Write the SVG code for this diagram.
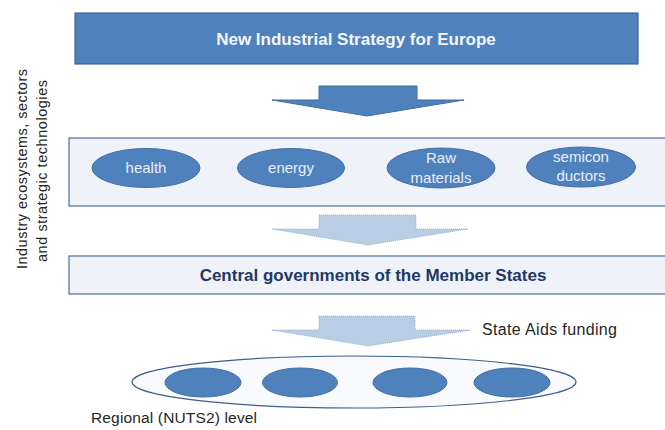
<svg xmlns="http://www.w3.org/2000/svg" width="665" height="430" viewBox="0 0 665 430">
  <style>
    .lbl { font-family: "Liberation Sans", Arial, sans-serif; }
    .dark-box { fill: #4f81bd; stroke: #3d6898; stroke-width: 1.2; }
    .light-box { fill: #eff3f9; stroke: #4d6f9c; stroke-width: 1.2; }
    .sector { fill: #4f81bd; stroke: #456fa3; stroke-width: 1; }
    .sector-text { fill: #e9eff8; font-size: 15px; text-anchor: middle; }
    .region { fill: #4f81bd; stroke: #456fa3; stroke-width: 1; }
    .arrow-solid { fill: #4f81bd; stroke: #456fa3; stroke-width: 1; }
    .arrow-light { fill: #b9cde5; stroke: #97b2d4; stroke-width: 1; stroke-dasharray: 1 1; }
    .plain { fill: #262626; }
  </style>

  <!-- Top-level strategy -->
  <g id="strategy">
    <rect class="dark-box" x="75" y="13" width="563" height="51"/>
    <text class="lbl" x="356" y="44.5" font-size="17" font-weight="bold" fill="#f3f6fb" text-anchor="middle">New Industrial  Strategy for Europe</text>
  </g>

  <!-- Side caption -->
  <g id="side-caption" class="lbl plain" font-size="14.5" text-anchor="middle">
    <text transform="translate(27,169) rotate(-90)" textLength="200" lengthAdjust="spacing">Industry ecosystems, sectors</text>
    <text transform="translate(46.5,171) rotate(-90)" textLength="182" lengthAdjust="spacing">and strategic technologies</text>
  </g>

  <!-- Ecosystems band -->
  <g id="ecosystems">
    <rect class="light-box" x="69" y="138" width="610" height="68"/>
    <g id="health">
      <ellipse class="sector" cx="146" cy="168" rx="54" ry="19.5"/>
      <text class="lbl sector-text" x="146" y="172.5">health</text>
    </g>
    <g id="energy">
      <ellipse class="sector" cx="291" cy="168" rx="53.5" ry="19.5"/>
      <text class="lbl sector-text" x="291" y="172.5">energy</text>
    </g>
    <g id="raw-materials">
      <ellipse class="sector" cx="441" cy="168" rx="54" ry="20"/>
      <text class="lbl sector-text" x="441" y="163.3">Raw</text>
      <text class="lbl sector-text" x="441" y="182.5">materials</text>
    </g>
    <g id="semiconductors">
      <ellipse class="sector" cx="581" cy="167" rx="54.5" ry="20"/>
      <text class="lbl sector-text" x="581" y="161.7">semicon</text>
      <text class="lbl sector-text" x="581" y="181">ductors</text>
    </g>
  </g>

  <!-- Member States -->
  <g id="member-states">
    <rect class="light-box" x="69" y="256" width="610" height="38"/>
    <text class="lbl" x="373" y="280.7" font-size="17" font-weight="bold" fill="#1f3864" text-anchor="middle">Central governments of the Member States</text>
  </g>

  <!-- Regional level -->
  <g id="regional">
    <ellipse cx="354" cy="382" rx="222" ry="26" fill="#f8fafd" stroke="#3e5f8a" stroke-width="1.2"/>
    <ellipse class="region" cx="203" cy="382.5" rx="38" ry="14.5"/>
    <ellipse class="region" cx="300" cy="382.5" rx="37.5" ry="14.5"/>
    <ellipse class="region" cx="410" cy="382.5" rx="37" ry="14.5"/>
    <ellipse class="region" cx="512" cy="382.5" rx="38" ry="14.5"/>
    <text class="lbl plain" x="91" y="422.5" font-size="15.5" textLength="166" lengthAdjust="spacing">Regional (NUTS2) level</text>
  </g>

  <!-- Flow arrows -->
  <g id="connectors">
    <polygon class="arrow-solid" points="319,86 417,86 417,100 464,100 367,116 272,100 319,100"/>
    <polygon class="arrow-light" points="319,215 416,215 416,229 468,229 368,245 272,229 319,229"/>
    <polygon class="arrow-light" points="319,316 415,316 415,330 470,330 368,346 272,330 319,330"/>
    <text class="lbl plain" x="482" y="335" font-size="16" textLength="135" lengthAdjust="spacing">State Aids funding</text>
  </g>
</svg>
